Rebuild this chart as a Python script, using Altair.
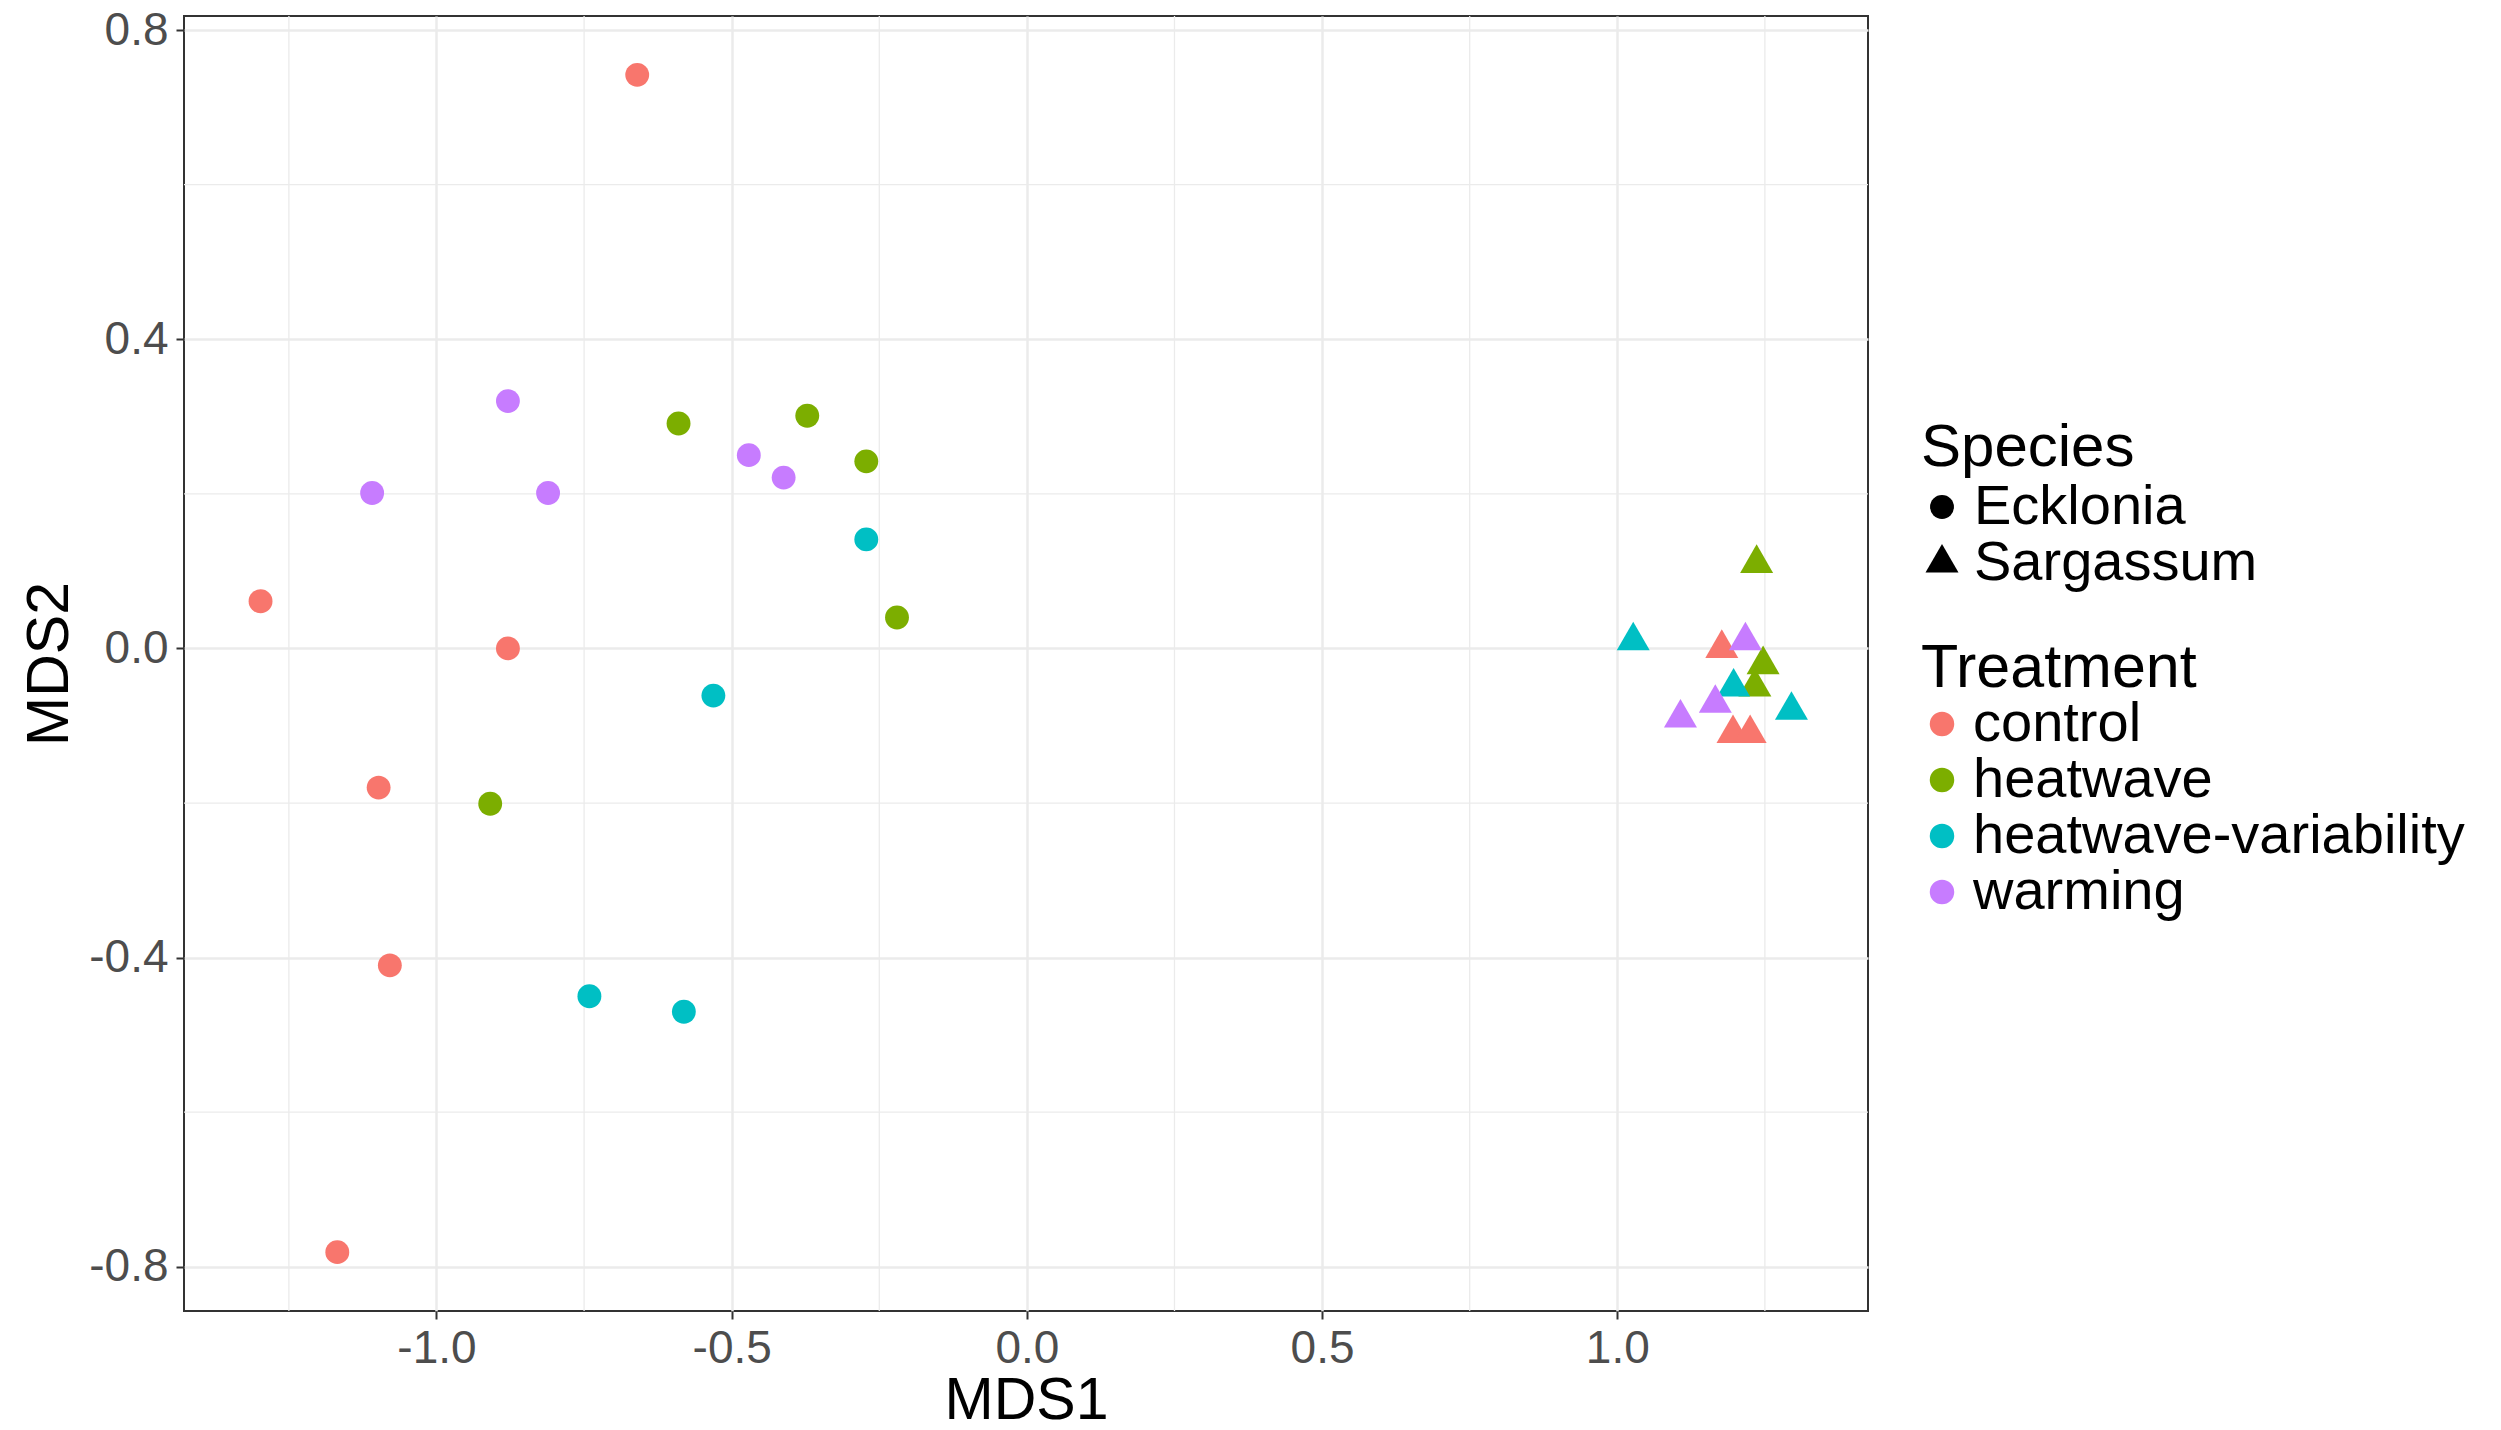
import altair as alt
import pandas as pd

# ---- data ----
species = ["Ecklonia"] * 20 + ["Sargassum"] * 12
treatment = (
    ["control"] * 6 + ["heatwave"] * 5 + ["heatwave-variability"] * 4 + ["warming"] * 5
    + ["control"] * 3 + ["heatwave"] * 3 + ["heatwave-variability"] * 3 + ["warming"] * 3
)
mds1 = [
    -0.660, -1.298, -0.879, -1.098, -1.079, -1.168,
    -0.590, -0.372, -0.272, -0.220, -0.909,
    -0.272, -0.531, -0.741, -0.581,
    -0.879, -1.109, -0.811, -0.471, -0.412,
    1.177, 1.196, 1.225,
    1.236, 1.247, 1.233,
    1.027, 1.197, 1.295,
    1.217, 1.166, 1.107,
]
mds2 = [
    0.742, 0.061, 0.000, -0.180, -0.410, -0.781,
    0.291, 0.301, 0.242, 0.040, -0.201,
    0.141, -0.061, -0.450, -0.470,
    0.320, 0.201, 0.201, 0.250, 0.221,
    0.000, -0.110, -0.110,
    0.110, -0.021, -0.050,
    0.010, -0.050, -0.080,
    0.010, -0.071, -0.090,
]

treat_levels = ["control", "heatwave", "heatwave-variability", "warming"]
treat_colors = ["#F8766D", "#7CAE00", "#00BFC4", "#C77CFF"]
species_levels = ["Ecklonia", "Sargassum"]

x_major = [-1.0, -0.5, 0.0, 0.5, 1.0]
x_minor = [-1.25, -0.75, -0.25, 0.25, 0.75, 1.25]
y_major = [-0.8, -0.4, 0.0, 0.4, 0.8]
y_minor = [-0.6, -0.2, 0.2, 0.6]

df = pd.DataFrame({"Species": species, "Treatment": treatment, "MDS1": mds1, "MDS2": mds2})


def expand(vals, f=0.05):
    lo, hi = min(vals), max(vals)
    d = (hi - lo) * f
    return [lo - d, hi + d]


xscale = alt.Scale(domain=expand(mds1), nice=False, zero=False)
yscale = alt.Scale(domain=expand(mds2), nice=False, zero=False)

FONT = "Liberation Sans"
TRI = "M0,-1.1547L1,0.5774L-1,0.5774Z"
label_expr = "(datum.value < 0 ? '-' : '') + format(abs(datum.value), '.1f')"


def ex(v):
    return {"expr": str(v)}


x_axis = alt.Axis(values=x_major, labelExpr=label_expr, grid=True,
                  labelPadding=7, titleY=107, titleBaseline="alphabetic")
y_axis = alt.Axis(values=y_major, labelExpr=label_expr, grid=True,
                  labelPadding=8, titleX=-117, titleBaseline="alphabetic")

minor_x = alt.Chart(pd.DataFrame({"v": x_minor})).mark_rule(
    color="#EBEBEB", strokeWidth=1.3
).encode(x=alt.X("v:Q", scale=xscale, title="MDS1", axis=x_axis))

minor_y = alt.Chart(pd.DataFrame({"v": y_minor})).mark_rule(
    color="#EBEBEB", strokeWidth=1.3
).encode(y=alt.Y("v:Q", scale=yscale, title="MDS2", axis=y_axis))

species_legend = alt.Legend(
    title="Species", orient="none", legendX=1737, legendY=403,
    titleFontSize=60, labelFontSize=56, titleFont=FONT, labelFont=FONT,
    titleFontWeight="normal", titleColor="black", labelColor="black",
    labelLimit=0, titleLimit=0,
    rowPadding=0, titlePadding=0, labelOffset=4, symbolOffset=ex(-7), padding=0,
    symbolStrokeWidth=0, symbolFillColor="black",
)

points = alt.Chart(df).mark_point(
    filled=True, opacity=1, color="black", strokeWidth=0
).encode(
    x=alt.X("MDS1:Q", scale=xscale, title="MDS1", axis=x_axis),
    y=alt.Y("MDS2:Q", scale=yscale, title="MDS2", axis=y_axis),
    color=alt.Color(
        "Treatment:N",
        scale=alt.Scale(domain=treat_levels, range=treat_colors),
        legend=alt.Legend(
            title="Treatment", orient="none", legendX=1737, legendY=623,
            titleFontSize=61, labelFontSize=56, titleFont=FONT, labelFont=FONT,
            titleFontWeight="normal", titleColor="black", labelColor="black",
            labelLimit=0, titleLimit=0,
            rowPadding=0, titlePadding=ex(-4), labelOffset=3, symbolOffset=ex(-7),
            padding=0, symbolType="circle", symbolSize=600, symbolStrokeWidth=0,
        ),
    ),
    shape=alt.Shape(
        "Species:N",
        scale=alt.Scale(domain=species_levels, range=["circle", TRI]),
        legend=species_legend,
    ),
    size=alt.Size(
        "Species:N",
        scale=alt.Scale(domain=species_levels, range=[570, 1089]),
        legend=species_legend,
    ),
)

chart = alt.layer(minor_x, minor_y, points).properties(
    width=1684, height=1295,
    autosize=alt.AutoSizeParams(type="none"),
    padding={"left": 184, "top": 16, "right": 633, "bottom": 119},
    background="white",
).configure_view(
    stroke="#333333", strokeWidth=2
).configure_axis(
    domain=False, tickColor="#333333", tickWidth=2, tickSize=8,
    labelColor="#4D4D4D", labelFont=FONT, labelFontSize=46,
    titleFont=FONT, titleFontSize=59, titleColor="black", titleFontWeight="normal",
    gridColor="#EBEBEB", gridWidth=2.5,
)

chart.save("out.html", embed_options={"renderer": "svg", "actions": False})
